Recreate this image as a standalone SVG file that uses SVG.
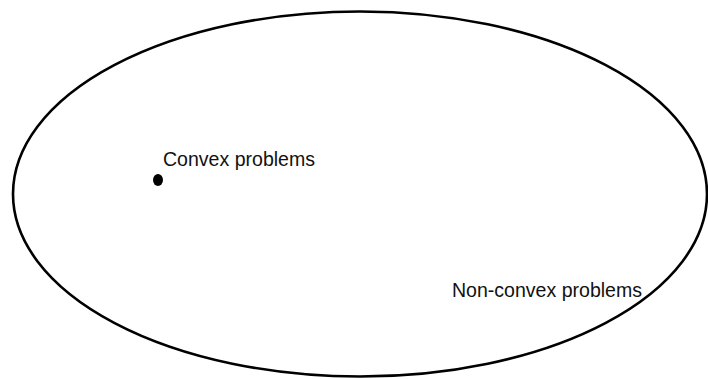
<svg xmlns="http://www.w3.org/2000/svg" width="708" height="379" viewBox="0 0 708 379">
<style>
.lbl{font-family:"Liberation Sans",Arial,sans-serif;font-size:20px;fill:#111}
</style>
<rect width="708" height="379" fill="#fff"/>
<g id="nonconvex">
<ellipse cx="360" cy="194" rx="347" ry="182.5" fill="none" stroke="#000" stroke-width="2.6"/>
<text class="lbl" x="452" y="297" style="font-size:19.5px" textLength="190" lengthAdjust="spacingAndGlyphs">Non-convex problems</text>
</g>
<g id="convex">
<ellipse cx="158" cy="180" rx="5" ry="6" fill="#000"/>
<text class="lbl" x="163" y="166" textLength="152" lengthAdjust="spacingAndGlyphs">Convex problems</text>
</g>
<g id="connectors"/>
</svg>
